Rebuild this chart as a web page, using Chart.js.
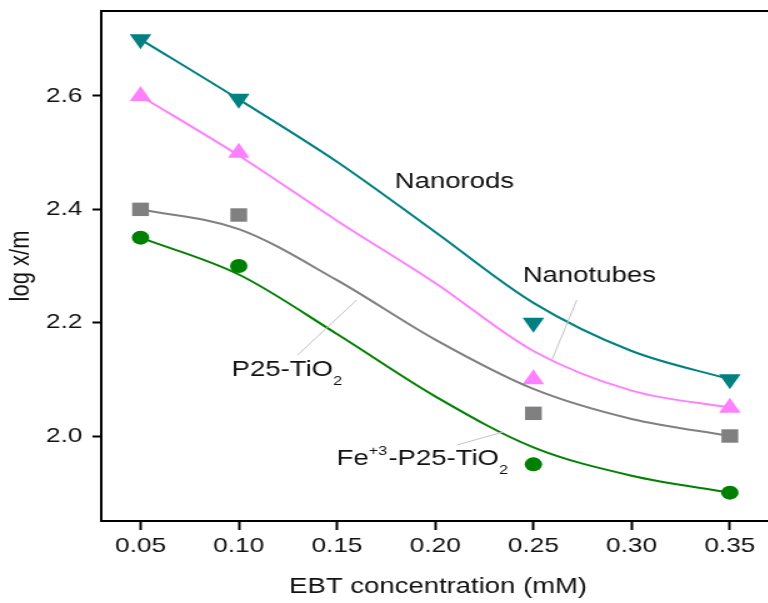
<!DOCTYPE html>
<html><head><meta charset="utf-8">
<script src="https://cdn.jsdelivr.net/npm/chart.js@4.4.0/dist/chart.umd.min.js"></script>
<style>html,body{margin:0;padding:0;background:#fff;overflow:hidden;width:768px;height:603px}canvas{display:block}</style>
</head><body>
<canvas id="c" width="620" height="603" style="width:775px;height:603px"></canvas>
<script>
// measured points
const concentrations = [0.05, 0.10, 0.25, 0.35];
const nanorods  = [2.70, 2.595, 2.20, 2.10];
const nanotubes = [2.60, 2.50, 2.10, 2.05];
const p25       = [2.40, 2.39, 2.04, 2.00];
const feP25     = [2.35, 2.30, 1.95, 1.90];

// fitted curves
const fitX         = [0.05, 0.10, 0.15, 0.20, 0.25, 0.30, 0.35];
const nanorodsFit  = [2.70, 2.594, 2.484, 2.36, 2.235, 2.15, 2.10];
const nanotubesFit = [2.60, 2.495, 2.38, 2.27, 2.15, 2.08, 2.05];
const p25Fit       = [2.40, 2.365, 2.275, 2.17, 2.083, 2.03, 2.00];
const feP25Fit     = [2.35, 2.285, 2.18, 2.07, 1.98, 1.93, 1.90];

const xTickLabels = ['0.05','0.10','0.15','0.20','0.25','0.30','0.35'];
const yTickLabels = ['2.0','2.2','2.4','2.6'];

const FONT = '"Liberation Sans", Arial, sans-serif';

function fitDataset(ys, color){
  return {type:'line', data: fitX.map((x,i)=>({x:x, y:ys[i]})), borderColor: color, borderWidth: 2,
    pointRadius: 0, cubicInterpolationMode: 'monotone', fill: false, showLine: true};
}
function pointDataset(ys, color, style, radius, rotation){
  return {type:'line', data: concentrations.map((x,i)=>({x:x, y:ys[i]})), showLine: false,
    pointStyle: style, pointRadius: radius, pointRotation: rotation || 0,
    backgroundColor: color, borderColor: color, pointBorderWidth: 0, pointHoverRadius: radius};
}

const annotations = [
  {x: 0.1794, y: 2.438, parts: [{t:'Nanorods'}]},
  {x: 0.2446, y: 2.272, parts: [{t:'Nanotubes'}]},
  {x: 0.0964, y: 2.106, parts: [{t:'P25-TiO'},{t:'2', sub:true}]},
  {x: 0.1498, y: 1.949, parts: [{t:'Fe'},{t:'+3', sup:true},{t:'-P25-TiO'},{t:'2', sub:true}]}
];
const leaders = [
  [0.130, 2.143, 0.160, 2.240],
  [0.2721, 2.240, 0.2594, 2.134],
  [0.211, 1.984, 0.2344, 2.007]
];

const decor = {
  id: 'decor',
  afterDraw(chart){
    const ctx = chart.ctx, a = chart.chartArea, sx = chart.scales.x, sy = chart.scales.y;
    ctx.save();
    // keep the open right side of the frame clean
    ctx.fillStyle = '#fff';
    ctx.fillRect(sx.getPixelForValue(0.364), a.top + 2, chart.width, a.bottom - a.top - 4);
    ctx.strokeStyle = '#000'; ctx.lineWidth = 2;
    ctx.beginPath(); ctx.moveTo(a.left - 1, a.top); ctx.lineTo(chart.width, a.top); ctx.stroke();
    ctx.strokeStyle = '#c4c4c4'; ctx.lineWidth = 1;
    leaders.forEach(l => {
      ctx.beginPath();
      ctx.moveTo(sx.getPixelForValue(l[0]), sy.getPixelForValue(l[1]));
      ctx.lineTo(sx.getPixelForValue(l[2]), sy.getPixelForValue(l[3]));
      ctx.stroke();
    });
    ctx.fillStyle = '#111'; ctx.textBaseline = 'alphabetic'; ctx.textAlign = 'left';
    annotations.forEach(an => {
      let x = sx.getPixelForValue(an.x);
      const y = sy.getPixelForValue(an.y);
      an.parts.forEach(p => {
        let dy = 0;
        if (p.sub) { ctx.font = '13px ' + FONT; dy = 9; }
        else if (p.sup) { ctx.font = '13px ' + FONT; dy = -10; }
        else { ctx.font = '22px ' + FONT; }
        ctx.fillText(p.t, x, y + dy);
        x += ctx.measureText(p.t).width + (p.sub || p.sup ? 1 : 0);
      });
    });
    ctx.restore();
  }
};

new Chart(document.getElementById('c'), {
  type: 'line',
  data: { datasets: [
    fitDataset(nanorodsFit, '#008080'),
    fitDataset(nanotubesFit, '#ff80ff'),
    fitDataset(p25Fit, '#808080'),
    fitDataset(feP25Fit, '#008000'),
    pointDataset(nanorods, '#008080', 'triangle', 10, 180),
    pointDataset(nanotubes, '#ff80ff', 'triangle', 10, 0),
    pointDataset(p25, '#808080', 'rect', 9.5, 0),
    pointDataset(feP25, '#008000', 'circle', 7, 0)
  ]},
  options: {
    responsive: false, devicePixelRatio: 1, animation: false,
    layout: { autoPadding: false, padding: { left: 0, right: 0, top: 11, bottom: 0 } },
    plugins: { legend: { display: false }, tooltip: { enabled: false } },
    events: [],
    scales: {
      x: {
        type: 'linear', min: 0.03, max: 0.373,
        afterBuildTicks: s => { s.ticks = xTickLabels.map(t => ({value: parseFloat(t)})); },
        afterFit: s => { s.height = 82; s.paddingLeft = 0; s.paddingRight = 0; },
        ticks: { callback: (v, i) => xTickLabels[i], font: {family: FONT, size: 21}, color: '#111',
                 padding: 4, maxRotation: 0, autoSkip: false },
        grid: { drawOnChartArea: false, drawTicks: true, tickLength: 9, tickWidth: 2, tickColor: '#000' },
        border: { display: true, color: '#000', width: 2 },
        title: { display: true, text: 'EBT concentration (mM)', font: {family: FONT, size: 22}, color: '#111',
                 padding: {top: 0, bottom: 3} }
      },
      y: {
        type: 'linear', min: 1.85, max: 2.75,
        afterBuildTicks: s => { s.ticks = yTickLabels.map(t => ({value: parseFloat(t)})); },
        afterFit: s => { s.width = 81; s.paddingTop = 0; s.paddingBottom = 0; },
        ticks: { callback: (v, i) => yTickLabels[i], font: {family: FONT, size: 21}, color: '#111', padding: 8 },
        grid: { drawOnChartArea: false, drawTicks: true, tickLength: 7, tickWidth: 2, tickColor: '#000' },
        border: { display: true, color: '#000', width: 2 },
        title: { display: true, text: 'log x/m', font: {family: FONT, size: 22}, color: '#111',
                 padding: {top: 4, bottom: 0} }
      }
    }
  },
  plugins: [decor]
});
</script>
</body></html>
